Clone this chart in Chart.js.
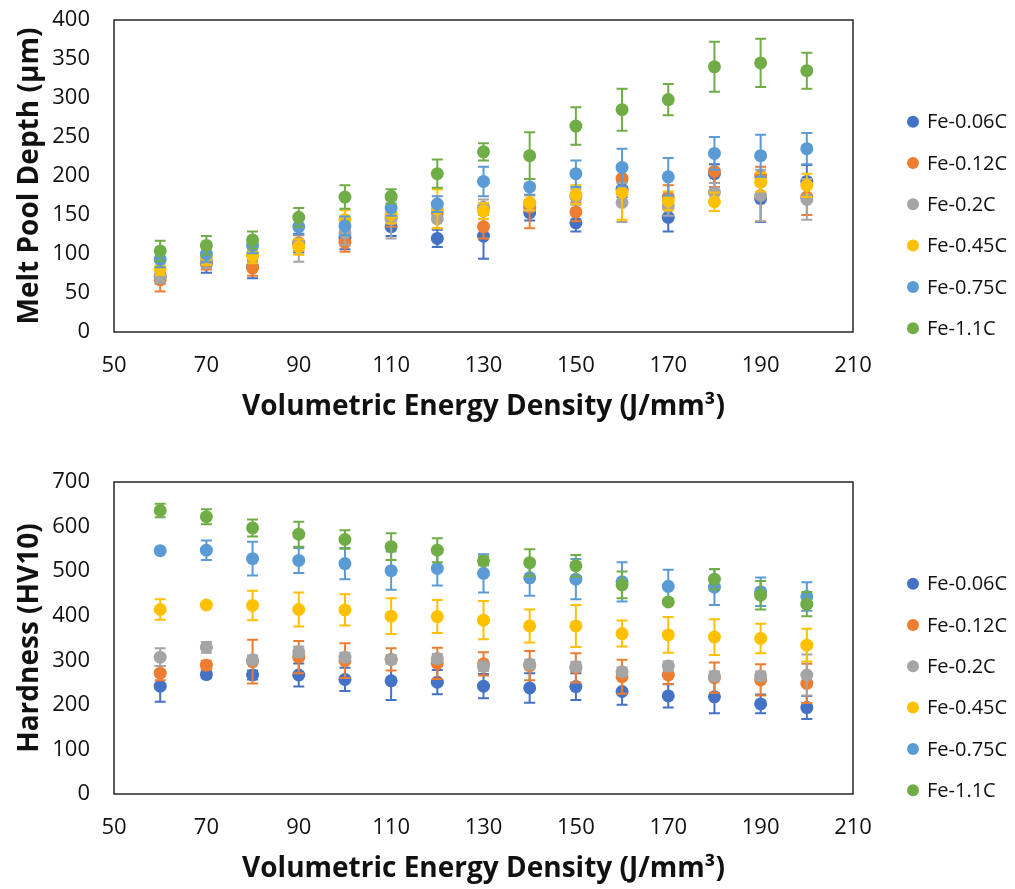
<!DOCTYPE html>
<html>
<head>
<meta charset="utf-8">
<script src="https://cdn.jsdelivr.net/npm/chart.js@4"></script>
<style>
body { margin: 0; background: #fff; }
.wrap { position: absolute; left: 0; width: 1015px; }
</style>
</head>
<body>
<div class="wrap" style="top:0"><canvas id="depthChart" width="1015" height="445"></canvas></div>
<div class="wrap" style="top:445px"><canvas id="hardnessChart" width="1015" height="444"></canvas></div>
<script>
const energy = [60, 70, 80, 90, 100, 110, 120, 130, 140, 150, 160, 170, 180, 190, 200];
const alloys = ['Fe-0.06C', 'Fe-0.12C', 'Fe-0.2C', 'Fe-0.45C', 'Fe-0.75C', 'Fe-1.1C'];
const colors = ['#4472C4', '#ED7D31', '#A5A5A5', '#FFC000', '#5B9BD5', '#70AD47'];

// melt pool depth (µm) and std dev
const depth006 = [72, 88, 84, 114, 121, 135, 120, 123, 153, 140, 183, 147, 203, 171, 193];
const depth006Err = [10, 12, 15, 12, 15, 12, 11, 29, 10, 11, 10, 18, 12, 30, 21];
const depth012 = [67, 90, 82, 114, 115, 147, 153, 135, 160, 154, 197, 173, 206, 200, 173];
const depth012Err = [15, 10, 10, 10, 12, 12, 10, 15, 27, 12, 15, 15, 20, 12, 23];
const depth02 = [71, 92, 100, 113, 127, 145, 145, 160, 165, 173, 166, 161, 179, 175, 170];
const depth02Err = [8, 10, 10, 23, 15, 25, 12, 10, 10, 10, 25, 12, 12, 33, 26];
const depth045 = [81, 96, 98, 109, 144, 151, 158, 155, 166, 176, 179, 168, 167, 192, 188];
const depth045Err = [8, 10, 10, 10, 12, 12, 25, 10, 10, 12, 35, 12, 12, 12, 15];
const depth075 = [93, 100, 111, 135, 136, 159, 164, 193, 186, 203, 211, 199, 229, 226, 235];
const depth075Err = [10, 10, 10, 10, 12, 10, 10, 19, 10, 17, 24, 24, 21, 27, 20];
const depth11 = [104, 111, 118, 147, 173, 174, 203, 231, 226, 264, 285, 298, 340, 345, 335];
const depth11Err = [13, 12, 11, 12, 15, 9, 18, 11, 30, 24, 27, 20, 32, 31, 23];

// hardness (HV10) and std dev
const hv006 = [242, 268, 267, 267, 257, 254, 251, 242, 238, 241, 230, 220, 218, 202, 194];
const hv006Err = [35, 8, 10, 26, 26, 43, 27, 27, 33, 30, 30, 26, 37, 21, 26];
const hv012 = [271, 289, 297, 307, 299, 302, 293, 292, 288, 283, 263, 267, 261, 256, 248];
const hv012Err = [16, 10, 49, 36, 39, 25, 35, 26, 33, 33, 38, 20, 34, 35, 44];
const hv02 = [307, 329, 301, 319, 307, 302, 304, 286, 291, 286, 274, 287, 265, 265, 267];
const hv02Err = [20, 12, 10, 12, 10, 10, 10, 10, 10, 10, 10, 10, 10, 10, 46];
const hv045 = [414, 424, 423, 414, 413, 399, 398, 390, 377, 377, 360, 357, 352, 349, 334];
const hv045Err = [23, 0, 33, 38, 35, 40, 37, 43, 37, 47, 29, 40, 40, 33, 37];
const hv075 = [546, 547, 528, 524, 517, 501, 506, 495, 485, 482, 476, 466, 464, 454, 443];
const hv075Err = [0, 22, 38, 28, 35, 43, 38, 43, 40, 45, 44, 37, 40, 32, 32];
const hv11 = [636, 622, 597, 583, 571, 555, 547, 523, 519, 512, 469, 431, 482, 446, 426];
const hv11Err = [15, 17, 19, 28, 21, 30, 27, 10, 30, 24, 30, 6, 23, 32, 27];

const FONT = "'Open Sans', sans-serif";
const TEXT = '#111';

function makeDatasets(values, errors) {
    return alloys.map((name, i) => ({
        label: name,
        data: energy.map((x, j) => ({ x: x, y: values[i][j] })),
        errors: errors[i],
        backgroundColor: colors[i],
        borderColor: colors[i],
        borderWidth: 0,
        pointRadius: 6.5,
        pointHoverRadius: 6.5,
        order: alloys.length - i   // later series on top, like Excel
    }));
}

// vertical error bars, drawn just under each series' markers
const errorBars = {
    id: 'errorBars',
    beforeDatasetDraw(chart, args) {
        const ds = chart.data.datasets[args.index];
        const y = chart.scales.y;
        const ctx = chart.ctx;
        ctx.save();
        ctx.strokeStyle = ds.borderColor;
        ctx.lineWidth = 2;
        args.meta.data.forEach((pt, j) => {
            const e = ds.errors[j];
            if (!e) return;
            const v = ds.data[j].y;
            const top = y.getPixelForValue(v + e);
            const bot = y.getPixelForValue(v - e);
            ctx.beginPath();
            ctx.moveTo(pt.x, top); ctx.lineTo(pt.x, bot);
            ctx.moveTo(pt.x - 5.5, top); ctx.lineTo(pt.x + 5.5, top);
            ctx.moveTo(pt.x - 5.5, bot); ctx.lineTo(pt.x + 5.5, bot);
            ctx.stroke();
        });
        ctx.restore();
    }
};

// black box round the plot area
const plotFrame = {
    id: 'plotFrame',
    beforeDatasetsDraw(chart) {
        const a = chart.chartArea;
        const ctx = chart.ctx;
        ctx.save();
        ctx.strokeStyle = '#262626';
        ctx.lineWidth = 1.5;
        ctx.strokeRect(a.left, a.top, a.right - a.left, a.bottom - a.top);
        ctx.restore();
    }
};

// legend column on the right
const sideLegend = {
    id: 'sideLegend',
    afterDraw(chart) {
        const a = chart.chartArea;
        const ctx = chart.ctx;
        ctx.save();
        ctx.font = '20px ' + FONT;
        ctx.textBaseline = 'middle';
        chart.data.datasets.forEach((ds, i) => {
            const yy = a.top + 101.7 + i * 41.3;
            ctx.beginPath();
            ctx.fillStyle = ds.backgroundColor;
            ctx.arc(913, yy, 6, 0, Math.PI * 2);
            ctx.fill();
            ctx.fillStyle = TEXT;
            ctx.fillText(ds.label, 927, yy + 1);
        });
        ctx.restore();
    }
};

function makeConfig(datasets, yTitle, yMax, yStep, padTop, padBottom) {
    return {
        type: 'scatter',
        data: { datasets: datasets },
        options: {
            responsive: false,
            animation: false,
            layout: { padding: { left: 0, top: padTop, right: 162, bottom: padBottom } },
            plugins: {
                legend: { display: false },
                tooltip: { enabled: false }
            },
            scales: {
                x: {
                    type: 'linear',
                    min: 50, max: 210,
                    ticks: { stepSize: 20, padding: 21, maxRotation: 0, color: TEXT, font: { family: FONT, size: 22 } },
                    grid: { display: false, drawTicks: false },
                    border: { display: false },
                    title: {
                        display: true,
                        text: 'Volumetric Energy Density (J/mm³)',
                        color: TEXT,
                        font: { family: FONT, size: 28, weight: 'bold' },
                        padding: { top: 6, bottom: 0 }
                    },
                    afterFit(scale) { scale.height = 92; }
                },
                y: {
                    min: 0, max: yMax,
                    ticks: { stepSize: yStep, padding: 24, color: TEXT, font: { family: FONT, size: 22 } },
                    grid: { display: false, drawTicks: false },
                    border: { display: false },
                    title: {
                        display: true,
                        text: yTitle,
                        color: TEXT,
                        font: { family: FONT, size: 28, weight: 'bold' },
                        padding: { top: 13, bottom: 0 }
                    },
                    afterFit(scale) {
                        scale.width = 114;
                        scale.paddingTop = 0;
                        scale.paddingBottom = 0;
                    }
                }
            }
        },
        plugins: [errorBars, plotFrame, sideLegend]
    };
}

const depthCfg = makeConfig(
    makeDatasets([depth006, depth012, depth02, depth045, depth075, depth11],
                 [depth006Err, depth012Err, depth02Err, depth045Err, depth075Err, depth11Err]),
    'Melt Pool Depth (µm)', 400, 50, 20, 21);

const hvCfg = makeConfig(
    makeDatasets([hv006, hv012, hv02, hv045, hv075, hv11],
                 [hv006Err, hv012Err, hv02Err, hv045Err, hv075Err, hv11Err]),
    'Hardness (HV10)', 700, 100, 37, 3);

const depthChart = new Chart(document.getElementById('depthChart'), depthCfg);
const hardnessChart = new Chart(document.getElementById('hardnessChart'), hvCfg);
</script>
</body>
</html>
